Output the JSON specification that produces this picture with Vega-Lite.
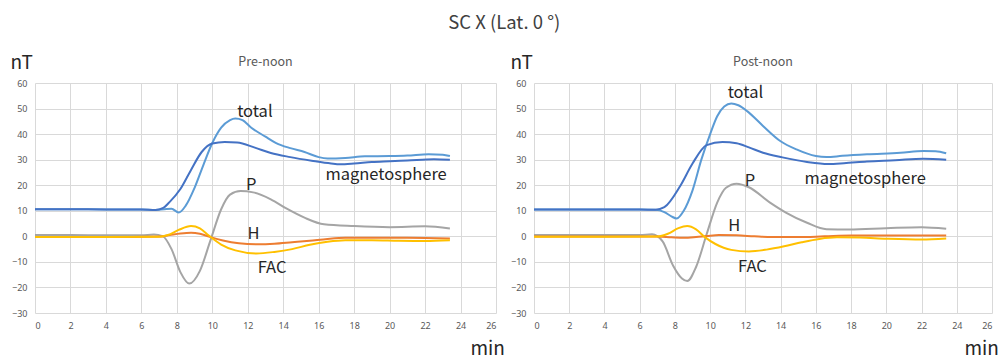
{
  "$schema": "https://vega.github.io/schema/vega-lite/v6.json",
  "background": "white",
  "padding": {"left": 10, "top": 13, "right": 4, "bottom": 2},
  "bounds": "flush",
  "spacing": 38,
  "title": {"text": "SC X (Lat. 0 °)", "fontSize": 18.5, "font": "Noto Sans CJK JP", "fontWeight": "normal", "color": "#404040", "anchor": "middle", "offset": 21},
  "datasets": {
    "pre": [
      {"t":0,"v":10.6,"s":"total"},{"t":2,"v":10.6,"s":"total"},{"t":4,"v":10.5,"s":"total"},{"t":6,"v":10.5,"s":"total"},{"t":6.8,"v":10.3,"s":"total"},{"t":7.3,"v":10.6,"s":"total"},{"t":7.7,"v":10.8,"s":"total"},{"t":8.1,"v":9.3,"s":"total"},{"t":8.5,"v":12,"s":"total"},{"t":9,"v":19,"s":"total"},{"t":9.5,"v":28,"s":"total"},{"t":10,"v":36.5,"s":"total"},{"t":10.5,"v":42.5,"s":"total"},{"t":11,"v":45.5,"s":"total"},{"t":11.3,"v":46.1,"s":"total"},{"t":11.7,"v":45.5,"s":"total"},{"t":12.2,"v":42.5,"s":"total"},{"t":13,"v":39,"s":"total"},{"t":13.6,"v":36.5,"s":"total"},{"t":14.4,"v":34.5,"s":"total"},{"t":15.2,"v":33,"s":"total"},{"t":16,"v":31,"s":"total"},{"t":16.5,"v":30.5,"s":"total"},{"t":17.5,"v":30.7,"s":"total"},{"t":18.6,"v":31.3,"s":"total"},{"t":20,"v":31.4,"s":"total"},{"t":21,"v":31.6,"s":"total"},{"t":22.2,"v":32.1,"s":"total"},{"t":23,"v":31.9,"s":"total"},{"t":23.4,"v":31.4,"s":"total"},
      {"t":0,"v":10.6,"s":"magnetosphere"},{"t":2,"v":10.6,"s":"magnetosphere"},{"t":4,"v":10.5,"s":"magnetosphere"},{"t":6,"v":10.5,"s":"magnetosphere"},{"t":6.8,"v":10.3,"s":"magnetosphere"},{"t":7.2,"v":11,"s":"magnetosphere"},{"t":7.6,"v":13.5,"s":"magnetosphere"},{"t":8.2,"v":18.5,"s":"magnetosphere"},{"t":8.8,"v":26,"s":"magnetosphere"},{"t":9.4,"v":33,"s":"magnetosphere"},{"t":10,"v":36.3,"s":"magnetosphere"},{"t":10.7,"v":36.9,"s":"magnetosphere"},{"t":11.4,"v":36.7,"s":"magnetosphere"},{"t":12.4,"v":34.7,"s":"magnetosphere"},{"t":13.3,"v":32.6,"s":"magnetosphere"},{"t":14.4,"v":31,"s":"magnetosphere"},{"t":15.6,"v":29.6,"s":"magnetosphere"},{"t":16.7,"v":28.5,"s":"magnetosphere"},{"t":17.2,"v":28.2,"s":"magnetosphere"},{"t":18,"v":28.5,"s":"magnetosphere"},{"t":19,"v":29.1,"s":"magnetosphere"},{"t":20,"v":29.4,"s":"magnetosphere"},{"t":21,"v":29.7,"s":"magnetosphere"},{"t":22.5,"v":30.2,"s":"magnetosphere"},{"t":23.4,"v":30,"s":"magnetosphere"},
      {"t":0,"v":0.5,"s":"P"},{"t":2,"v":0.5,"s":"P"},{"t":4,"v":0.4,"s":"P"},{"t":6,"v":0.4,"s":"P"},{"t":6.7,"v":0.7,"s":"P"},{"t":7.2,"v":0.1,"s":"P"},{"t":7.7,"v":-5,"s":"P"},{"t":8.2,"v":-14,"s":"P"},{"t":8.7,"v":-18.5,"s":"P"},{"t":9.3,"v":-13.5,"s":"P"},{"t":9.9,"v":-1.5,"s":"P"},{"t":10.5,"v":10.6,"s":"P"},{"t":11,"v":16.3,"s":"P"},{"t":11.6,"v":17.7,"s":"P"},{"t":12.3,"v":17.2,"s":"P"},{"t":13.3,"v":14.5,"s":"P"},{"t":14.2,"v":10.8,"s":"P"},{"t":15.2,"v":7.3,"s":"P"},{"t":16.3,"v":4.7,"s":"P"},{"t":18,"v":4,"s":"P"},{"t":20,"v":3.6,"s":"P"},{"t":22,"v":3.9,"s":"P"},{"t":23.4,"v":3.1,"s":"P"},
      {"t":0,"v":-0.3,"s":"H"},{"t":4,"v":-0.3,"s":"H"},{"t":7,"v":-0.1,"s":"H"},{"t":7.6,"v":0.5,"s":"H"},{"t":8.2,"v":1.1,"s":"H"},{"t":8.8,"v":1.4,"s":"H"},{"t":9.3,"v":1,"s":"H"},{"t":9.9,"v":-0.3,"s":"H"},{"t":10.6,"v":-1.6,"s":"H"},{"t":11.5,"v":-2.7,"s":"H"},{"t":12.5,"v":-3.1,"s":"H"},{"t":13.5,"v":-2.9,"s":"H"},{"t":14.5,"v":-2.3,"s":"H"},{"t":15.5,"v":-1.7,"s":"H"},{"t":16.5,"v":-1,"s":"H"},{"t":17.5,"v":-0.6,"s":"H"},{"t":19,"v":-0.6,"s":"H"},{"t":21,"v":-0.6,"s":"H"},{"t":23.4,"v":-0.8,"s":"H"},
      {"t":0,"v":-0.3,"s":"FAC"},{"t":4,"v":-0.3,"s":"FAC"},{"t":7,"v":-0.2,"s":"FAC"},{"t":7.5,"v":0.5,"s":"FAC"},{"t":8.1,"v":2.5,"s":"FAC"},{"t":8.8,"v":4,"s":"FAC"},{"t":9.3,"v":3.1,"s":"FAC"},{"t":9.8,"v":0.3,"s":"FAC"},{"t":10.5,"v":-3.2,"s":"FAC"},{"t":11.3,"v":-5.5,"s":"FAC"},{"t":12.5,"v":-6.7,"s":"FAC"},{"t":13.5,"v":-6.1,"s":"FAC"},{"t":14.5,"v":-5,"s":"FAC"},{"t":15.5,"v":-3.3,"s":"FAC"},{"t":16.5,"v":-2.1,"s":"FAC"},{"t":17.5,"v":-1.5,"s":"FAC"},{"t":19,"v":-1.5,"s":"FAC"},{"t":20.5,"v":-1.7,"s":"FAC"},{"t":22,"v":-1.8,"s":"FAC"},{"t":23.4,"v":-1.5,"s":"FAC"}
    ],
    "post": [
      {"t":0,"v":10.5,"s":"total"},{"t":2,"v":10.5,"s":"total"},{"t":4,"v":10.5,"s":"total"},{"t":6,"v":10.5,"s":"total"},{"t":6.9,"v":10.4,"s":"total"},{"t":7.4,"v":9.5,"s":"total"},{"t":7.8,"v":7.8,"s":"total"},{"t":8.1,"v":7,"s":"total"},{"t":8.5,"v":10,"s":"total"},{"t":9,"v":18,"s":"total"},{"t":9.5,"v":30,"s":"total"},{"t":10,"v":40,"s":"total"},{"t":10.4,"v":47,"s":"total"},{"t":10.8,"v":50.8,"s":"total"},{"t":11.2,"v":52,"s":"total"},{"t":11.6,"v":51.3,"s":"total"},{"t":12.1,"v":49,"s":"total"},{"t":13,"v":43.2,"s":"total"},{"t":14,"v":37.2,"s":"total"},{"t":14.9,"v":34,"s":"total"},{"t":16,"v":31.4,"s":"total"},{"t":16.6,"v":31,"s":"total"},{"t":17.5,"v":31.5,"s":"total"},{"t":18.9,"v":32.1,"s":"total"},{"t":20.8,"v":32.7,"s":"total"},{"t":22.1,"v":33.4,"s":"total"},{"t":22.8,"v":33.3,"s":"total"},{"t":23.4,"v":32.5,"s":"total"},
      {"t":0,"v":10.5,"s":"magnetosphere"},{"t":2,"v":10.5,"s":"magnetosphere"},{"t":4,"v":10.5,"s":"magnetosphere"},{"t":6,"v":10.5,"s":"magnetosphere"},{"t":6.9,"v":10.4,"s":"magnetosphere"},{"t":7.4,"v":11.4,"s":"magnetosphere"},{"t":8.3,"v":19.7,"s":"magnetosphere"},{"t":9,"v":28.5,"s":"magnetosphere"},{"t":9.8,"v":35.7,"s":"magnetosphere"},{"t":10.7,"v":36.9,"s":"magnetosphere"},{"t":11.5,"v":36.4,"s":"magnetosphere"},{"t":12.2,"v":34.8,"s":"magnetosphere"},{"t":13,"v":32.7,"s":"magnetosphere"},{"t":14.1,"v":30.9,"s":"magnetosphere"},{"t":15.5,"v":29.1,"s":"magnetosphere"},{"t":16.7,"v":28.3,"s":"magnetosphere"},{"t":17.6,"v":28.6,"s":"magnetosphere"},{"t":18.9,"v":29.3,"s":"magnetosphere"},{"t":20.5,"v":29.8,"s":"magnetosphere"},{"t":22.1,"v":30.4,"s":"magnetosphere"},{"t":23.4,"v":30,"s":"magnetosphere"},
      {"t":0,"v":0.5,"s":"P"},{"t":3,"v":0.5,"s":"P"},{"t":6,"v":0.5,"s":"P"},{"t":6.7,"v":0.8,"s":"P"},{"t":7.3,"v":-2,"s":"P"},{"t":7.9,"v":-11.5,"s":"P"},{"t":8.4,"v":-16.5,"s":"P"},{"t":8.7,"v":-17.5,"s":"P"},{"t":9.2,"v":-12,"s":"P"},{"t":9.8,"v":0.8,"s":"P"},{"t":10.4,"v":13.2,"s":"P"},{"t":10.9,"v":19,"s":"P"},{"t":11.5,"v":20.6,"s":"P"},{"t":12.2,"v":19.2,"s":"P"},{"t":13.4,"v":13.2,"s":"P"},{"t":14.3,"v":9.3,"s":"P"},{"t":15.5,"v":5.3,"s":"P"},{"t":16.6,"v":2.8,"s":"P"},{"t":17.9,"v":2.7,"s":"P"},{"t":20,"v":3.2,"s":"P"},{"t":22,"v":3.6,"s":"P"},{"t":23.4,"v":3,"s":"P"},
      {"t":0,"v":-0.1,"s":"H"},{"t":4,"v":-0.1,"s":"H"},{"t":7,"v":-0.1,"s":"H"},{"t":7.8,"v":-0.4,"s":"H"},{"t":8.5,"v":-0.6,"s":"H"},{"t":9.2,"v":-0.3,"s":"H"},{"t":9.8,"v":0.1,"s":"H"},{"t":10.5,"v":0.5,"s":"H"},{"t":11.5,"v":0.4,"s":"H"},{"t":12.5,"v":0,"s":"H"},{"t":13.5,"v":-0.3,"s":"H"},{"t":15,"v":-0.3,"s":"H"},{"t":16.5,"v":0,"s":"H"},{"t":18,"v":0.3,"s":"H"},{"t":20,"v":0.3,"s":"H"},{"t":23.4,"v":0.3,"s":"H"},
      {"t":0,"v":-0.2,"s":"FAC"},{"t":4,"v":-0.2,"s":"FAC"},{"t":7,"v":-0.1,"s":"FAC"},{"t":7.6,"v":1,"s":"FAC"},{"t":8.2,"v":3.2,"s":"FAC"},{"t":8.7,"v":4,"s":"FAC"},{"t":9.2,"v":2.7,"s":"FAC"},{"t":9.7,"v":-0.3,"s":"FAC"},{"t":10.3,"v":-3,"s":"FAC"},{"t":11.2,"v":-5.3,"s":"FAC"},{"t":12.2,"v":-5.9,"s":"FAC"},{"t":13.2,"v":-5.2,"s":"FAC"},{"t":14.2,"v":-3.9,"s":"FAC"},{"t":15.2,"v":-2.3,"s":"FAC"},{"t":16.2,"v":-1,"s":"FAC"},{"t":17.2,"v":-0.4,"s":"FAC"},{"t":18.5,"v":-0.5,"s":"FAC"},{"t":20,"v":-0.9,"s":"FAC"},{"t":22,"v":-1.2,"s":"FAC"},{"t":23.4,"v":-0.8,"s":"FAC"}
    ],
    "preLabels": [
      {"t":12.4,"v":48.6,"label":"total"},{"t":19.8,"v":24,"label":"magnetosphere"},{"t":12.2,"v":20.1,"label":"P"},{"t":12.33,"v":0.8,"label":"H"},{"t":13.37,"v":-12.5,"label":"FAC"}
    ],
    "postLabels": [
      {"t":12.0,"v":56,"label":"total"},{"t":18.8,"v":22.5,"label":"magnetosphere"},{"t":12.26,"v":21.6,"label":"P"},{"t":11.37,"v":4,"label":"H"},{"t":12.4,"v":-11.9,"label":"FAC"}
    ]
  },
  "config": {
    "view": {"stroke": null},
    "axis": {"gridColor": "#d9d9d9", "gridWidth": 1, "domain": false, "ticks": false, "labelOverlap": false, "tickCount": 30, "labelColor": "#595959", "labelFontSize": 9, "labelFont": "Noto Sans", "titleFont": "Noto Sans CJK JP", "titleFontWeight": "normal", "titleColor": "#262626", "titleFontSize": 19},
    "title": {"font": "Noto Sans CJK JP"}
  },
  "hconcat": [
    {
      "width": 461, "height": 230,
      "title": {"text": "Pre-noon", "fontSize": 12.5, "color": "#595959", "fontWeight": "normal", "offset": -15},
      "layer": [
        {
          "data": {"name": "pre"},
          "mark": {"type": "line", "strokeWidth": 2, "interpolate": "monotone"},
          "encoding": {
            "x": {"field": "t", "type": "quantitative", "scale": {"domain": [0, 26], "nice": false}, "axis": {"values": [0,2,4,6,8,10,12,14,16,18,20,22,24,26], "tickCount": 30, "title": "min", "titleX": 435, "titleY": 35, "titleAlign": "left", "titleBaseline": "middle", "labelPadding": 8}},
            "y": {"field": "v", "type": "quantitative", "scale": {"domain": [-30, 60], "nice": false}, "axis": {"values": [-30,-20,-10,0,10,20,30,40,50,60], "tickCount": 30, "title": "nT", "titleAngle": 0, "titleX": -25, "titleY": -21, "titleAlign": "left", "titleBaseline": "middle", "labelPadding": 8}},
            "color": {"field": "s", "type": "nominal", "scale": {"domain": ["total", "magnetosphere", "P", "H", "FAC"], "range": ["#5B9BD5", "#4472C4", "#A5A5A5", "#ED7D31", "#FFC000"]}, "legend": null},
            "order": {"field": "t"}
          }
        },
        {"mark": {"type": "rule", "color": "#a6a6a6", "strokeWidth": 1}, "encoding": {"y": {"datum": 0, "type": "quantitative", "scale": {"domain": [-30, 60], "nice": false}, "axis": {"values": [-30,-20,-10,0,10,20,30,40,50,60], "tickCount": 30, "title": "nT", "titleAngle": 0, "titleX": -25, "titleY": -21, "titleAlign": "left", "titleBaseline": "middle", "labelPadding": 8}}}},
        {
          "data": {"name": "preLabels"},
          "mark": {"type": "text", "fontSize": 16.5, "font": "Noto Sans CJK JP", "color": "#262626", "align": "center", "baseline": "middle"},
          "encoding": {"x": {"field": "t", "type": "quantitative"}, "y": {"field": "v", "type": "quantitative"}, "text": {"field": "label"}}
        }
      ]
    },
    {
      "width": 458, "height": 230,
      "title": {"text": "Post-noon", "fontSize": 12.5, "color": "#595959", "fontWeight": "normal", "offset": -15},
      "layer": [
        {
          "data": {"name": "post"},
          "mark": {"type": "line", "strokeWidth": 2, "interpolate": "monotone"},
          "encoding": {
            "x": {"field": "t", "type": "quantitative", "scale": {"domain": [0, 26], "nice": false}, "axis": {"values": [0,2,4,6,8,10,12,14,16,18,20,22,24,26], "tickCount": 30, "title": "min", "titleX": 430, "titleY": 35, "titleAlign": "left", "titleBaseline": "middle", "labelPadding": 8}},
            "y": {"field": "v", "type": "quantitative", "scale": {"domain": [-30, 60], "nice": false}, "axis": {"values": [-30,-20,-10,0,10,20,30,40,50,60], "tickCount": 30, "title": "nT", "titleAngle": 0, "titleX": -24, "titleY": -21, "titleAlign": "left", "titleBaseline": "middle", "labelPadding": 8}},
            "color": {"field": "s", "type": "nominal", "scale": {"domain": ["total", "magnetosphere", "P", "H", "FAC"], "range": ["#5B9BD5", "#4472C4", "#A5A5A5", "#ED7D31", "#FFC000"]}, "legend": null},
            "order": {"field": "t"}
          }
        },
        {"mark": {"type": "rule", "color": "#a6a6a6", "strokeWidth": 1}, "encoding": {"y": {"datum": 0, "type": "quantitative", "scale": {"domain": [-30, 60], "nice": false}, "axis": {"values": [-30,-20,-10,0,10,20,30,40,50,60], "tickCount": 30, "title": "nT", "titleAngle": 0, "titleX": -24, "titleY": -21, "titleAlign": "left", "titleBaseline": "middle", "labelPadding": 8}}}},
        {
          "data": {"name": "postLabels"},
          "mark": {"type": "text", "fontSize": 16.5, "font": "Noto Sans CJK JP", "color": "#262626", "align": "center", "baseline": "middle"},
          "encoding": {"x": {"field": "t", "type": "quantitative"}, "y": {"field": "v", "type": "quantitative"}, "text": {"field": "label"}}
        }
      ]
    }
  ]
}
